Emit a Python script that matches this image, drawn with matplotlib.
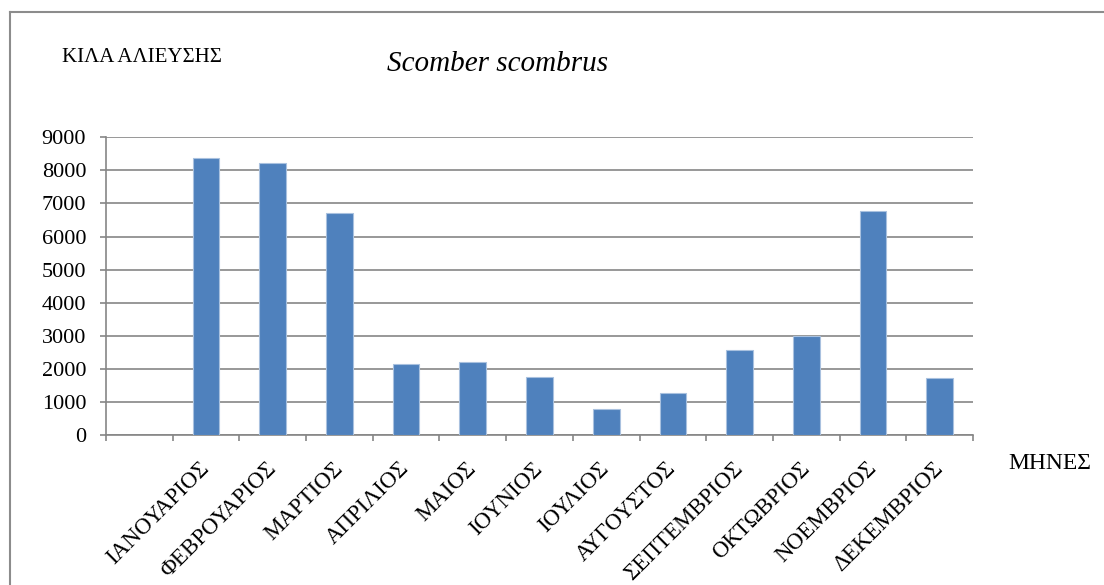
import numpy as np
import matplotlib
matplotlib.use("Agg")
import matplotlib.pyplot as plt
from matplotlib.lines import Line2D

plt.rcParams["font.family"] = ["Liberation Serif", "DejaVu Serif"]

# first category slot is empty in the original sheet
months = ["", "ΙΑΝΟΥΑΡΙΟΣ", "ΦΕΒΡΟΥΑΡΙΟΣ", "ΜΑΡΤΙΟΣ", "ΑΠΡΙΛΙΟΣ", "ΜΑΙΟΣ", "ΙΟΥΝΙΟΣ",
          "ΙΟΥΛΙΟΣ", "ΑΥΓΟΥΣΤΟΣ", "ΣΕΠΤΕΜΒΡΙΟΣ", "ΟΚΤΩΒΡΙΟΣ", "ΝΟΕΜΒΡΙΟΣ", "ΔΕΚΕΜΒΡΙΟΣ"]
catch_kg = [np.nan, 8370, 8220, 6720, 2150, 2200, 1750, 780, 1270, 2580, 3000, 6760, 1720]
y_ticks = [0, 1000, 2000, 3000, 4000, 5000, 6000, 7000, 8000, 9000]

W, H = 1104, 585
fig = plt.figure(figsize=(W / 100, H / 100), dpi=100)
fig.patch.set_facecolor("white")

ax = fig.add_axes([106 / W, 1 - 435 / H, (973 - 106) / W, (435 - 137.3) / H])

x = np.arange(len(months))
ax.bar(x, catch_kg, width=0.4, color="#4F81BD", edgecolor="#a9c1df", linewidth=0.8, zorder=3)

ax.set_xlim(-0.5, len(months) - 0.5)
ax.set_ylim(0, 9000)
ax.set_yticks(y_ticks)
ax.set_yticklabels([str(v) for v in y_ticks], fontsize=16)

# tick marks on category boundaries, labels at centres
ax.set_xticks(np.arange(-0.5, len(months)), minor=True)
ax.set_xticks(x)
ax.set_xticklabels(months, fontsize=16.5)
ax.tick_params(axis="x", which="major", length=0, pad=22)
ax.tick_params(axis="x", which="minor", length=4.3, width=1.2, color="#868686")
ax.tick_params(axis="y", length=4.3, width=1.2, color="#868686", pad=10)
plt.setp(ax.get_xticklabels(), rotation=45, ha="right", va="center", rotation_mode="anchor")

ax.grid(axis="y", color="#868686", linewidth=1.2, zorder=0)
for side in ["top", "right"]:
    ax.spines[side].set_visible(False)
for side in ["left", "bottom"]:
    ax.spines[side].set_color("#868686")
    ax.spines[side].set_linewidth(1.2)

fig.text(61.7 / W, 1 - 61.7 / H, "ΚΙΛΑ ΑΛΙΕΥΣΗΣ", fontsize=15, ha="left", va="baseline")
fig.text(498 / W, 1 - 71 / H, "Scomber scombrus", fontsize=21, style="italic",
         ha="center", va="baseline")
fig.text(1008 / W, 1 - 469 / H, "ΜΗΝΕΣ", fontsize=17, ha="left", va="baseline")

# chart-area frame (only top and left edges show in the crop)
fig.add_artist(Line2D([10 / W, 10 / W], [0, 1 - 12 / H], color="#8c8c8c", lw=1.5,
                      transform=fig.transFigure))
fig.add_artist(Line2D([10 / W, 1], [1 - 12 / H, 1 - 12 / H], color="#8c8c8c", lw=1.5,
                      transform=fig.transFigure))

fig.savefig("out.png", dpi=100, facecolor=fig.get_facecolor())
